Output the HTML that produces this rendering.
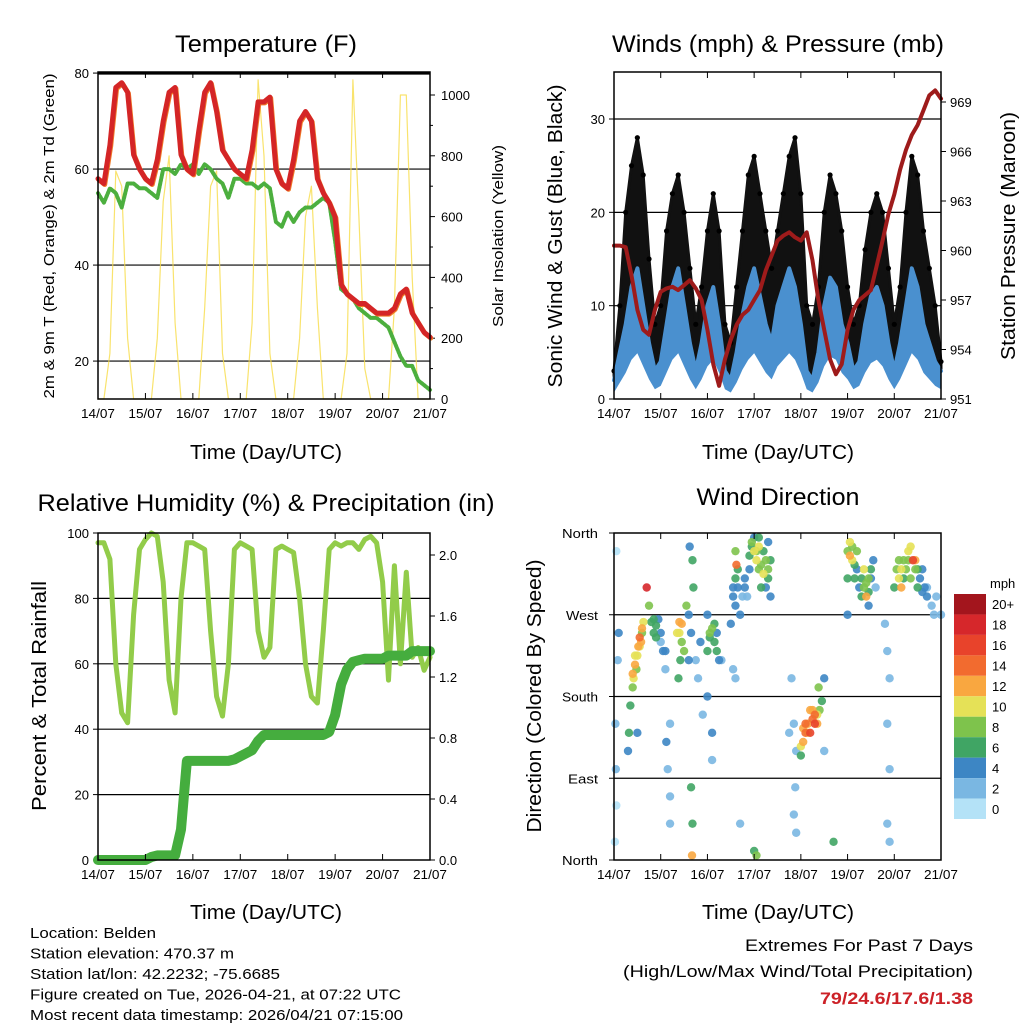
<!DOCTYPE html>
<html><head><meta charset="utf-8"><style>
html,body{margin:0;padding:0;background:#fff;}
svg{display:block;font-family:"Liberation Sans",sans-serif;}
</style></head><body>
<svg id="c" width="1024" height="1024" viewBox="0 0 1024 1024"></svg>
<script>
// ---- data (3-hourly, 57 samples over 7 days) ----
const dayLabels=["14/07","15/07","16/07","17/07","18/07","19/07","20/07","21/07"];
const tempF=[58,57,65,77,78,76,63,60,58,57,62,70,76,77,63,60,59,68,76,78,72,64,62,60,59,58,64,74,74,75,60,57,56,62,70,72,70,58,55,53,50,36,34,33,32,32,31,30,30,30,31,34,35,30,28,26,25];
const dewF=[55,53,56,55,52,57,57,56,56,55,54,60,60,59,61,60,61,59,61,60,58,57,54,58,58,57,57,56,57,56,49,48,51,49,51,52,52,53,54,53,45,35,34,33,31,30,29,29,28,27,24,21,19,19,16,15,14];
const solar=[0,0,150,750,700,200,0,0, 0,0,200,650,800,250,0,0, 0,0,300,700,750,150,0,0, 0,0,250,1050,800,150,0,0, 0,0,200,600,700,300,0,0, 0,0,150,1050,600,100,0,0, 0,0,300,1000,1000,400,0,0, 0];
const windMph=[2,5,8,12,14,10,6,3,4,8,12,14,10,6,3,6,10,12,8,3,2,5,9,12,14,11,8,6,10,12,14,12,8,3,2,5,10,13,12,8,6,3,4,8,11,12,10,6,3,6,10,14,12,8,6,4,3];
const gustMph=[3,10,20,25,28,24,15,8,10,18,22,24,20,14,8,12,18,22,18,8,6,12,18,24,26,22,18,14,18,22,26,28,22,10,8,12,20,24,22,18,12,8,10,16,20,22,20,14,8,12,20,26,24,18,14,10,4];
const pressMb=[960.3,960.3,960.2,958.5,956.4,955.2,954.9,956.4,957.5,957.7,957.8,957.6,957.9,958.2,957.7,957.0,955.2,953.1,951.8,953.4,954.6,955.5,956.1,956.4,957.0,957.6,958.8,959.7,960.6,960.9,961.1,960.8,960.6,961.1,959.4,957.0,955.2,953.4,952.5,953.1,955.2,956.4,957.0,957.3,957.6,959.1,960.6,962.2,963.4,964.9,966.1,967.0,967.6,968.5,969.4,969.7,969.2];
const rhPct=[97,97,92,60,45,42,75,95,98,100,99,85,55,45,80,97,97,96,95,70,50,44,60,95,97,96,95,70,62,65,95,96,95,94,80,60,50,48,70,95,97,96,97,97,95,98,99,97,85,55,90,60,88,62,65,58,62];
const precipIn=[0,0,0,0,0,0,0,0,0,0.02,0.03,0.03,0.03,0.03,0.2,0.65,0.65,0.65,0.65,0.65,0.65,0.65,0.65,0.66,0.68,0.7,0.72,0.78,0.82,0.82,0.82,0.82,0.82,0.82,0.82,0.82,0.82,0.82,0.82,0.84,0.95,1.15,1.25,1.3,1.31,1.32,1.32,1.32,1.32,1.34,1.34,1.34,1.34,1.37,1.37,1.37,1.37];
// wind direction scatter: day, degrees, speed
const dirDay=[0.02,0.05,0.03,0.08,0.05,0.1,0.04,0.35,0.4,0.42,0.45,0.5,0.52,0.55,0.6,0.63,0.58,0.48,0.7,0.75,0.8,0.85,0.9,0.95,1.0,1.05,1.1,1.12,1.15,1.2,1.2,0.3,0.32,1.35,1.4,1.45,1.5,1.42,1.38,1.55,1.6,1.65,1.7,1.68,1.62,1.65,1.68,1.67,1.75,1.8,1.85,1.9,2.0,2.05,2.1,2.15,2.2,2.25,2.0,2.1,2.1,2.0,2.3,2.5,2.55,2.6,2.62,2.6,2.65,2.55,2.7,2.8,2.85,2.9,2.95,3.0,3.05,3.1,3.15,3.2,3.25,3.3,3.35,3.3,3.1,3.0,3.05,3.8,3.85,3.9,3.88,3.85,3.9,3.75,4.0,4.05,4.1,4.15,4.2,4.25,4.3,4.2,4.35,4.4,4.45,4.38,4.5,4.5,4.7,5.0,5.05,5.1,5.15,5.2,5.25,5.3,5.35,5.4,5.45,5.5,5.45,5.55,5.6,5.0,5.0,5.8,5.85,5.9,5.85,5.9,5.85,5.9,6.0,6.05,6.1,6.15,6.2,6.25,6.3,6.35,6.4,6.45,6.5,6.55,6.6,6.65,6.7,6.8,6.85,6.9,7.0,
 2.55,2.6,2.65,2.7,2.75,2.8,2.9,2.95,3.0,3.05,3.1,3.15,3.2,3.25,3.3,3.35,5.05,5.1,5.15,5.2,5.3,5.35,5.4,5.45,5.5,6.1,6.15,6.2,6.3,6.35,6.45,6.5,6.6,6.7,4.05,4.1,4.15,4.25,4.3,4.35,4.0,0.4,0.45,0.55,0.6,0.85,0.9,1.4,1.45,2.05,2.15,2.2,1.1,1.6,1.0,2.6,1.2,0.5];
const dirDeg=[20,60,150,220,340,250,100,170,190,200,215,225,235,245,255,262,240,210,300,280,262,250,258,265,240,230,210,130,100,70,40,120,140,250,262,240,230,220,200,280,270,250,300,330,345,80,40,5,220,200,240,160,230,250,255,240,230,220,180,140,110,270,220,260,290,310,325,340,300,210,40,300,290,320,345,355,340,320,300,315,330,310,290,350,355,10,5,200,150,120,80,50,30,140,125,130,140,150,165,155,160,140,150,165,175,190,200,120,20,340,350,330,310,320,300,290,300,290,310,320,280,330,300,270,310,260,230,200,150,100,40,20,300,320,310,300,330,320,340,310,330,320,300,310,295,300,290,280,270,290,270,
 300,280,320,270,290,310,335,350,340,330,345,325,340,300,320,330,335,345,325,340,310,320,305,295,310,330,320,310,330,345,330,320,320,300,145,150,140,165,150,160,115,205,225,235,250,265,245,250,260,245,260,250,230,220,250,200,150,140];
const dirSpd=[1,1,2,3,1,4,2,6,8,11,12,10,13,14,13,11,12,9,18,8,7,7,6,5,3,4,3,4,3,3,3,5,6,11,12,8,8,7,6,9,4,4,6,6,5,6,6,12,3,3,5,2,6,8,9,7,6,4,4,4,3,5,3,4,5,6,14,8,4,3,2,4,3,5,6,5,8,9,7,10,8,7,4,5,7,6,8,3,2,2,3,2,2,3,10,13,14,13,12,14,15,16,12,8,6,8,4,3,6,8,10,11,6,5,4,7,8,12,9,6,4,4,3,4,6,3,2,2,2,2,2,2,6,8,10,12,9,8,10,9,16,8,6,5,4,4,4,3,2,2,2,
 5,4,7,4,3,5,6,9,10,11,10,8,6,5,9,7,12,9,7,8,6,10,9,6,4,9,11,7,8,10,12,7,5,3,12,15,11,13,16,11,7,12,10,11,9,7,6,10,12,7,6,5,4,4,5,3,3,5];
const speedLabels=["20+","18","16","14","12","10","8","6","4","2","0"];
const speedColors=["#a3151d","#d6272b","#e8432b","#f26b2f","#f9a740","#e5e157","#7ec34c","#40a564","#3d86c4","#7ab7e2","#b4e2f7"];

const NS="http://www.w3.org/2000/svg";
const svg=document.getElementById('c');
function mk(tag,attrs,parent,text){const e=document.createElementNS(NS,tag);for(const k in attrs)e.setAttribute(k,attrs[k]);if(text!==undefined)e.textContent=text;(parent||svg).appendChild(e);return e;}
function tAt(i){return i*0.125;}
function panel(name,L,T,R,B){const g=mk('g',{});return {g,L,T,R,B,x:d=>L+(R-L)*d/7};}
function text(p,x,y,s,size,anchor,name,extra){const t=mk('text',Object.assign({x:x,y:y,'font-size':size,'text-anchor':anchor||'middle',fill:'#000'},extra||{}),p.g,s);return t;}
function frame(p){
  for(let d=0;d<=7;d++){const x=p.x(d);
    mk('line',{x1:x,y1:p.B,x2:x,y2:p.B-6,stroke:'#000','stroke-width':1},p.g);
    mk('line',{x1:x,y1:p.T,x2:x,y2:p.T+6,stroke:'#000','stroke-width':1},p.g);
    text(p,x,p.B+19,dayLabels[d],13,'middle','x-tick-label',{textLength:34,lengthAdjust:'spacingAndGlyphs'});}
  const r=mk('rect',{x:p.L,y:p.T,width:p.R-p.L,height:p.B-p.T,fill:'none',stroke:'#000','stroke-width':1.5},p.g);
  
}
function hgrid(p,y){mk('line',{x1:p.L,y1:y,x2:p.R,y2:y,stroke:'#000','stroke-width':1.2},p.g);}
function poly(p,pts,attrs,name){const e=mk('polyline',Object.assign({points:pts.map(q=>q[0].toFixed(1)+','+q[1].toFixed(1)).join(' '),fill:'none','stroke-linejoin':'round','stroke-linecap':'round'},attrs),p.g);return e;}

// ===== Temperature panel =====
(function(){
 const p=panel('temperature-panel',98,72,430,399);
 const yT=v=>399-(v-12.1)*4.8, yS=v=>399-v*0.304;
 [20,40,60,80].forEach(v=>{hgrid(p,yT(v));mk('line',{x1:p.L-5,y1:yT(v),x2:p.L,y2:yT(v),stroke:'#000'},p.g);text(p,p.L-9,yT(v)+5,String(v),13,'end','y-tick-label');});
 for(let v=0;v<=1000;v+=200){mk('line',{x1:p.R,y1:yS(v),x2:p.R+5,y2:yS(v),stroke:'#000'},p.g);text(p,p.R+11,yS(v)+5,String(v),13,'start','y2-tick-label');}
 for(let v=100;v<1000;v+=200){mk('line',{x1:p.R,y1:yS(v),x2:p.R+3,y2:yS(v),stroke:'#000'},p.g);}
 poly(p,solar.map((v,i)=>[p.x(tAt(i)),yS(v)]),{stroke:'#f7dc48','stroke-width':1.2,opacity:0.8},'solar-insolation-line');
 poly(p,dewF.map((v,i)=>[p.x(tAt(i)),yT(v)]),{stroke:'#4caf3e','stroke-width':4,'stroke-dasharray':'2 1.5'},'dewpoint-line');
 poly(p,tempF.map((v,i)=>[p.x(tAt(i))+0.8,yT(v)+1]),{stroke:'#f07a28','stroke-width':5},'temp-9m-line');
 poly(p,tempF.map((v,i)=>[p.x(tAt(i)),yT(v)]),{stroke:'#d42526','stroke-width':5},'temp-2m-line');
 hgrid(p,74);
 frame(p);
 text(p,266,52,'Temperature (F)',24,'middle','chart-title',{textLength:182,lengthAdjust:'spacingAndGlyphs'});
 text(p,266,459,'Time (Day/UTC)',20,'middle','x-axis-title',{textLength:152,lengthAdjust:'spacingAndGlyphs'});
 text(p,0,0,'2m & 9m T (Red, Orange) & 2m Td (Green)',15,'middle','y-axis-title',{transform:'translate(54,236) rotate(-90)',textLength:325,lengthAdjust:'spacingAndGlyphs'});
 text(p,0,0,'Solar Insolation (Yellow)',15,'middle','y2-axis-title',{transform:'translate(503,236) rotate(-90)',textLength:182,lengthAdjust:'spacingAndGlyphs'});
})();

// ===== Winds panel =====
(function(){
 const p=panel('winds-pressure-panel',614,72,941,399);
 const yW=v=>399-v*9.333, yP=v=>399-(v-951)*16.5;
 [10,20,30].forEach(v=>hgrid(p,yW(v)));
 [0,10,20,30].forEach(v=>{mk('line',{x1:p.L-5,y1:yW(v),x2:p.L,y2:yW(v),stroke:'#000'},p.g);text(p,p.L-9,yW(v)+5,String(v),13,'end','y-tick-label');});
 for(let v=951;v<=969;v+=3){mk('line',{x1:p.R,y1:yP(v),x2:p.R+5,y2:yP(v),stroke:'#000'},p.g);text(p,p.R+9,yP(v)+5,String(v),13,'start','y2-tick-label');}
 const top=gustMph.map((v,i)=>[p.x(tAt(i)),yW(v)]), bot=windMph.map((v,i)=>[p.x(tAt(i)),yW(v)]).reverse();
 const a=mk('polygon',{points:top.concat(bot).map(q=>q.join(',')).join(' '),fill:'#111','stroke':'#111','stroke-width':3,'stroke-linejoin':'round'},p.g);
 gustMph.forEach((v,i)=>{const c=mk('circle',{cx:p.x(tAt(i)),cy:yW(v),r:2.6,fill:'#000'},p.g);});
 const wl=windMph.map((v,i)=>[p.x(tAt(i)),yW(v)]);
 const lo=windMph.map((v,i)=>[p.x(tAt(i)),yW(v*0.35)]).reverse();
 const b=mk('polygon',{points:wl.concat(lo).map(q=>q.join(',')).join(' '),fill:'#4a90cf'},p.g);
 poly(p,wl,{stroke:'#4a90cf','stroke-width':4},'sonic-wind-line');
 poly(p,pressMb.map((v,i)=>[p.x(tAt(i)),yP(v)]),{stroke:'#9e1b1b','stroke-width':4},'pressure-line');
 frame(p);
 text(p,778,52,'Winds (mph) & Pressure (mb)',24,'middle','chart-title',{textLength:332,lengthAdjust:'spacingAndGlyphs'});
 text(p,778,459,'Time (Day/UTC)',20,'middle','x-axis-title',{textLength:152,lengthAdjust:'spacingAndGlyphs'});
 text(p,0,0,'Sonic Wind & Gust (Blue, Black)',20,'middle','y-axis-title',{transform:'translate(562,236) rotate(-90)',textLength:303,lengthAdjust:'spacingAndGlyphs'});
 text(p,0,0,'Station Pressure (Maroon)',20,'middle','y2-axis-title',{transform:'translate(1015,236) rotate(-90)',textLength:248,lengthAdjust:'spacingAndGlyphs'});
})();

// ===== RH panel =====
(function(){
 const p=panel('humidity-precip-panel',98,533,430,860);
 const yR=v=>860-v*3.27, yI=v=>860-v*152.5;
 [20,40,60,80].forEach(v=>hgrid(p,yR(v)));
 for(let v=0;v<=100;v+=20){mk('line',{x1:p.L-5,y1:yR(v),x2:p.L,y2:yR(v),stroke:'#000'},p.g);text(p,p.L-9,yR(v)+5,String(v),13,'end','y-tick-label');}
 for(let v=0;v<=2.01;v+=0.4){mk('line',{x1:p.R,y1:yI(v),x2:p.R+5,y2:yI(v),stroke:'#000'},p.g);text(p,p.R+9,yI(v)+5,v.toFixed(1),13,'start','y2-tick-label');}
 poly(p,rhPct.map((v,i)=>[p.x(tAt(i)),yR(v)]),{stroke:'#92cc4a','stroke-width':5},'relative-humidity-line');
 poly(p,precipIn.map((v,i)=>[p.x(tAt(i)),yI(v)]),{stroke:'#45ad3e','stroke-width':10},'precipitation-line');
 frame(p);
 text(p,266,511,'Relative Humidity (%) & Precipitation (in)',24,'middle','chart-title',{textLength:457,lengthAdjust:'spacingAndGlyphs'});
 text(p,266,919,'Time (Day/UTC)',20,'middle','x-axis-title',{textLength:152,lengthAdjust:'spacingAndGlyphs'});
 text(p,0,0,'Percent & Total Rainfall',20,'middle','y-axis-title',{transform:'translate(46,696) rotate(-90)',textLength:230,lengthAdjust:'spacingAndGlyphs'});
})();

// ===== Wind direction panel =====
(function(){
 const p=panel('wind-direction-panel',614,533,941,860);
 const yD=v=>860-v/360*327;
 [90,180,270].forEach(v=>hgrid(p,yD(v)));
 const names=["North","East","South","West","North"];
 names.forEach((n,k)=>{const v=k*90;mk('line',{x1:p.L-5,y1:yD(v),x2:p.L,y2:yD(v),stroke:'#000'},p.g);text(p,p.L-16,yD(v)+5,n,13,'end','y-tick-label',{textLength:n==='North'?36:(n==='West'?32:n==='South'?36:30),lengthAdjust:'spacingAndGlyphs'});});
 const idx=dirDay.map((d,i)=>i).sort((a,b)=>dirSpd[a]-dirSpd[b]);
 idx.forEach(i=>{const k=10-Math.min(10,Math.floor(dirSpd[i]/2));
   const c=mk('circle',{cx:p.x(dirDay[i]),cy:yD(dirDeg[i]),r:4.2,fill:speedColors[k],opacity:0.9},p.g);
   
   });
 frame(p);
 text(p,778,505,'Wind Direction',24,'middle','chart-title',{textLength:163,lengthAdjust:'spacingAndGlyphs'});
 text(p,778,919,'Time (Day/UTC)',20,'middle','x-axis-title',{textLength:152,lengthAdjust:'spacingAndGlyphs'});
 text(p,0,0,'Direction (Colored By Speed)',20,'middle','y-axis-title',{transform:'translate(541,696) rotate(-90)',textLength:273,lengthAdjust:'spacingAndGlyphs'});
 const cb=mk('g',{},svg);
 const h=225/11;
 speedColors.forEach((c,k)=>{const r=mk('rect',{x:954,y:594+k*h,width:32,height:h,fill:c},cb);
   const t=mk('text',{x:992,y:594+k*h+h/2+5,'font-size':13},cb,speedLabels[k]);});
 const u=mk('text',{x:990,y:588,'font-size':13},cb,'mph');
})();

// ===== footer text =====
(function(){
 const g=mk('g',{});
 const lines=[['Location: Belden',126],['Station elevation: 470.37 m',204],['Station lat/lon: 42.2232; -75.6685',250],['Figure created on Tue, 2026-04-21, at 07:22 UTC',371],['Most recent data timestamp: 2026/04/21 07:15:00',373]];
 lines.forEach((l,k)=>{const t=mk('text',{x:30,y:938+k*20.5,'font-size':15,textLength:l[1],lengthAdjust:'spacingAndGlyphs'},g,l[0]);});
 const g2=mk('g',{});
 let t=mk('text',{x:973,y:951,'font-size':17,'text-anchor':'end',textLength:228,lengthAdjust:'spacingAndGlyphs'},g2,'Extremes For Past 7 Days');
 t=mk('text',{x:973,y:977,'font-size':17,'text-anchor':'end',textLength:350,lengthAdjust:'spacingAndGlyphs'},g2,'(High/Low/Max Wind/Total Precipitation)');
 t=mk('text',{x:973,y:1004,'font-size':17,'font-weight':'bold',fill:'#cc2127','text-anchor':'end',textLength:153,lengthAdjust:'spacingAndGlyphs'},g2,'79/24.6/17.6/1.38');
})();
</script>
</body></html>
